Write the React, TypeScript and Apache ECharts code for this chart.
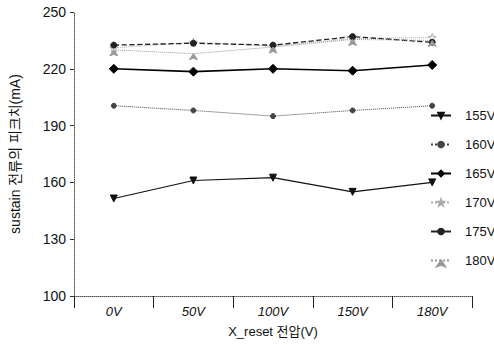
import React, { useEffect, useRef } from "react";
import * as echarts from "echarts";

const categories = ["0V", "50V", "100V", "150V", "180V"];
const yTicks = [100, 130, 160, 190, 220, 250];
const seriesNames = ["155V", "160V", "165V", "170V", "175V", "180V"];
const v155 = [151.5, 161, 162.5, 155, 160];
const v160 = [200.5, 198, 195, 198, 200.5];
const v165 = [220, 218.5, 220, 219, 222];
const v170 = [231, 234, 232, 236, 236.5];
const v175 = [232.5, 233.5, 232.5, 237, 234];
const v180 = [230, 228, 231.5, 235.5, 235];

const FONT = "'Liberation Sans', 'Noto Sans CJK KR', sans-serif";
const STAR =
  "path://M5,0 L6.2,3.6 L10,3.6 L7,5.9 L8.1,9.5 L5,7.3 L1.9,9.5 L3,5.9 L0,3.6 L3.8,3.6 Z";
const TRI_DOWN = "path://M0,0 L10,0 L5,9 Z";

export default function App() {
  const ref = useRef<HTMLDivElement>(null);
  useEffect(() => {
    const chart = echarts.init(ref.current!, null, { renderer: "svg" });
    const mk = (
      name: string,
      data: number[],
      color: string,
      type: string,
      width: number,
      symbol: string,
      size: number,
      fill?: string
    ) => ({
      name,
      type: "line",
      data,
      symbol,
      symbolSize: size,
      lineStyle: { color, width, type },
      itemStyle: { color: fill ?? color, borderColor: color, borderWidth: 1 },
      emphasis: { disabled: true },
    });
    chart.setOption({
      animation: false,
      textStyle: { fontFamily: FONT },
      grid: { left: 72, right: 22, top: 12, bottom: 49 },
      legend: {
        orient: "vertical",
        left: 425,
        top: 104,
        itemGap: 16,
        itemWidth: 20,
        itemHeight: 7,
        textStyle: {
          fontSize: 13,
          color: "#111",
          fontFamily: FONT,
          padding: [0, 0, 0, 9],
        },
        data: seriesNames,
      },
      xAxis: {
        type: "category",
        data: categories,
        boundaryGap: true,
        name: "X_reset 전압(V)",
        nameLocation: "middle",
        nameGap: 29,
        nameTextStyle: { fontSize: 13, color: "#111", fontFamily: FONT },
        axisLine: { lineStyle: { color: "#555", type: "dotted", width: 1 } },
        axisTick: { show: true, interval: 0, length: 12, lineStyle: { color: "#222" } },
        axisLabel: {
          fontSize: 13,
          color: "#111",
          fontStyle: "italic",
          margin: 9,
          fontFamily: FONT,
        },
      },
      yAxis: {
        type: "value",
        min: yTicks[0],
        max: yTicks[yTicks.length - 1],
        interval: 30,
        name: "sustain 전류의 피크치(mA)",
        nameLocation: "middle",
        nameGap: 52,
        nameRotate: 90,
        nameTextStyle: { fontSize: 14, color: "#111", fontFamily: FONT },
        axisLine: { show: true, lineStyle: { color: "#555", type: "dotted", width: 1 } },
        axisTick: { show: true, length: 4, lineStyle: { color: "#333" } },
        axisLabel: { fontSize: 14, color: "#111", margin: 8, fontFamily: FONT },
        splitLine: { show: false },
      },
      series: [
        mk(seriesNames[0], v155, "#111", "solid", 1.2, TRI_DOWN, 7),
        mk(seriesNames[1], v160, "#444", "dotted", 1, "circle", 5),
        mk(seriesNames[2], v165, "#000", "solid", 1.6, "diamond", 9),
        mk(seriesNames[3], v170, "#aaa", "dotted", 1, STAR, 8, "#fff"),
        mk(seriesNames[4], v175, "#222", "dashed", 1.3, "circle", 6),
        mk(seriesNames[5], v180, "#999", "dotted", 1, "arrow", 6),
      ],
    });
    return () => chart.dispose();
  }, []);
  return (
    <div
      ref={ref}
      style={{ position: "absolute", left: 0, top: 0, width: 494, height: 345 }}
    />
  );
}
